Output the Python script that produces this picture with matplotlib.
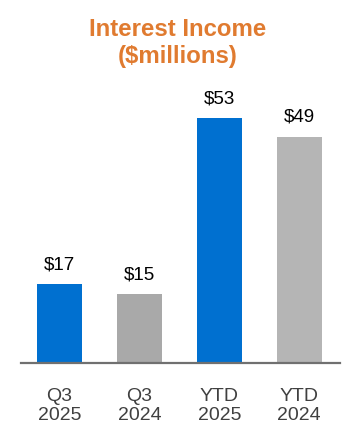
import matplotlib.pyplot as plt

plt.rcParams['font.family'] = ['Liberation Sans', 'DejaVu Sans']

categories = ['Q3\n2025', 'Q3\n2024', 'YTD\n2025', 'YTD\n2024']
values = [17, 15, 53, 49]
labels = ['$17', '$15', '$53', '$49']
colors = ['#0070D0', '#A9A9A9', '#0070D0', '#B5B5B5']

fig = plt.figure(figsize=(3.6, 4.48), dpi=100)
ax = fig.add_axes([21 / 360, 85 / 448, 319 / 360, 0.66])

x = range(len(values))
ax.bar(x, values, width=0.56, color=colors)

for i, v in enumerate(values):
    ax.text(i, v + 2.3, labels[i], ha='center', va='bottom', fontsize=13.5, color='black')

ax.set_xlim(-0.48, 3.51)
ax.set_ylim(0, 64)
ax.set_xticks(list(x))
ax.set_xticklabels(categories, fontsize=14, color='#404040', linespacing=1.15)
ax.tick_params(axis='x', length=0, pad=18)
ax.set_yticks([])
for s in ['top', 'right', 'left']:
    ax.spines[s].set_visible(False)
ax.spines['bottom'].set_color('#707070')
ax.spines['bottom'].set_linewidth(1.6)

fig.text(0.494, 1 - 43 / 448, 'Interest Income\n($millions)', ha='center', va='center',
         fontsize=17.3, fontweight='bold', color='#E07B30', linespacing=1.25)

plt.savefig('out.png', dpi=100)
